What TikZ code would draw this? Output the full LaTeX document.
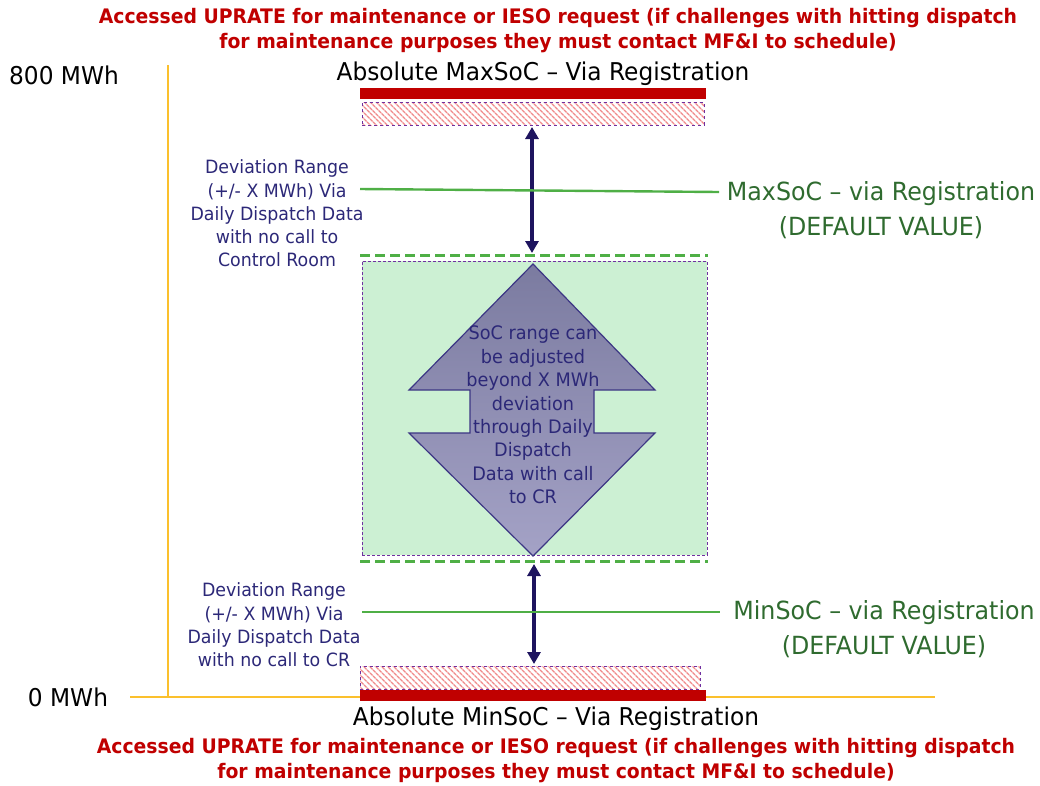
\documentclass[tikz,border=0pt]{standalone}
\usepackage{fontspec}
\setmainfont{DejaVu Sans}
\newfontfamily\titlefont{DejaVu Sans}[FakeStretch=0.94]
\newfontfamily\bodyfont{DejaVu Sans}[FakeStretch=0.95]
\usetikzlibrary{patterns.meta,arrows.meta}
\definecolor{redc}{HTML}{C00000}
\definecolor{navy}{HTML}{2C2878}
\definecolor{arrc}{HTML}{1E145F}
\definecolor{labgreen}{HTML}{2F6B2F}
\definecolor{linegreen}{HTML}{4FAF46}
\definecolor{yel}{HTML}{FBC02D}
\definecolor{lightg}{HTML}{CCF0D3}
\definecolor{purp}{HTML}{7030A0}
\definecolor{hatchc}{HTML}{F08A8A}
\definecolor{shapetop}{HTML}{7B7BA0}
\definecolor{shapebot}{HTML}{A4A2C6}
\definecolor{shapeline}{HTML}{3C3684}
\tikzset{
  titletext/.style={text=redc, font=\titlefont\bfseries\fontsize{20}{25}\selectfont, align=center, inner sep=0},
  axislabel/.style={font=\bodyfont\fontsize{24.5}{28}\selectfont, inner sep=0},
  bigtext/.style={font=\bodyfont\fontsize{24.5}{28}\selectfont, inner sep=0},
  redbar/.style={fill=redc, draw=none, inner sep=0},
  hatchbox/.style={draw=purp, dashed, line width=1pt, pattern={Lines[angle=-45,distance=4pt,line width=1.6pt]}, pattern color=hatchc, inner sep=0},
  greenbox/.style={fill=lightg, draw=purp, dash pattern=on 3pt off 2pt, line width=1pt, inner sep=0},
  gdash/.style={draw=linegreen, line width=3pt, dash pattern=on 10pt off 5pt},
  gline/.style={draw=linegreen, line width=2.4pt},
  lefttext/.style={text=navy, font=\bodyfont\fontsize{18.3}{23.3}\selectfont, align=center, inner sep=0},
  rlabel/.style={text=labgreen, font=\bodyfont\fontsize{25}{35}\selectfont, align=center, inner sep=0},
  dblarrow/.style={draw=arrc, line width=3.2pt, {Triangle[length=12pt,width=13pt]}-{Triangle[length=12pt,width=13pt]}},
  arrowshape/.style={draw=shapeline, line width=1.2pt, top color=shapetop, bottom color=shapebot},
  shapetext/.style={text=navy, font=\bodyfont\fontsize{18.6}{23.4}\selectfont, align=center, inner sep=0},
}
\begin{document}
\begin{tikzpicture}[x=1pt,y=-1pt]
\useasboundingbox (0,0) rectangle (1040,785);
% titles
\node[titletext] (toptitle) at (558,31) {Accessed UPRATE for maintenance or IESO request (if challenges with hitting dispatch\\for maintenance purposes they must contact MF\&I to schedule)};
\node[titletext] (bottitle) at (556,761) {Accessed UPRATE for maintenance or IESO request (if challenges with hitting dispatch\\for maintenance purposes they must contact MF\&I to schedule)};
% axis
\coordinate (ytop) at (168,65);
\coordinate (ybot) at (168,697);
\coordinate (xl) at (130,697);
\coordinate (xr) at (935,697);
\draw[yel, line width=2.8pt] (ytop) -- (ybot);
\draw[yel, line width=2.8pt] (xl) -- (xr);
\node[axislabel] (l800) at (64,75) {800 MWh};
\node[axislabel] (l0) at (68,697) {0 MWh};
% absolute max
\node[bigtext] (absmax) at (543,74) {Absolute MaxSoC – Via Registration};
\node[redbar, minimum width=346pt, minimum height=11pt] (barmax) at (533,93.5) {};
\node[hatchbox, minimum width=342pt, minimum height=23pt] (hmax) at (533,113.5) {};
% absolute min
\node[hatchbox, minimum width=340pt, minimum height=23pt] (hmin) at (530,677.5) {};
\node[redbar, minimum width=346pt, minimum height=11pt] (barmin) at (533,695.5) {};
\node[bigtext] (absmin) at (556,719) {Absolute MinSoC – Via Registration};
% green box
\node[greenbox, minimum width=345pt, minimum height=294pt] (gbox) at (534.5,408) {};
\coordinate (gdl) at (360,255);
\coordinate (gdr) at (708,255);
\coordinate (gdl2) at (360,561);
\coordinate (gdr2) at (708,561);
\draw[gdash] (gdl) -- (gdr);
\draw[gdash] (gdl2) -- (gdr2);
% double arrow shape
\draw[arrowshape] (533,264) -- (655,390) -- (594,390) -- (594,433) -- (655,433) -- (533,556) -- (409,433) -- (470,433) -- (470,390) -- (409,390) -- cycle;
\node[shapetext] (stext) at (533,415) {SoC range can\\be adjusted\\beyond X MWh\\deviation\\through Daily\\Dispatch\\Data with call\\to CR};
% vertical arrows
\coordinate (a1t) at (532,127);
\coordinate (a1b) at (532,253);
\coordinate (a2t) at (534,564);
\coordinate (a2b) at (534,664);
\draw[dblarrow] (a1t) -- (a1b);
\draw[dblarrow] (a2t) -- (a2b);
% left texts
\node[lefttext] (devup) at (277,213.5) {Deviation Range\\(+/- X MWh) Via\\Daily Dispatch Data\\with no call to\\Control Room};
\node[lefttext] (devlo) at (274,625) {Deviation Range\\(+/- X MWh) Via\\Daily Dispatch Data\\with no call to CR};
% right labels
\node[rlabel] (maxsoc) at (881,210.5) {MaxSoC – via Registration\\(DEFAULT VALUE)};
\node[rlabel] (minsoc) at (884,629.5) {MinSoC – via Registration\\(DEFAULT VALUE)};
\coordinate (gl1) at (360,189);
\coordinate (gr1) at (719,192);
\coordinate (gl2) at (362,612);
\coordinate (gr2) at (720,612);
\draw[gline] (gl1) -- (gr1);
\draw[gline] (gl2) -- (gr2);
\end{tikzpicture}
\end{document}
